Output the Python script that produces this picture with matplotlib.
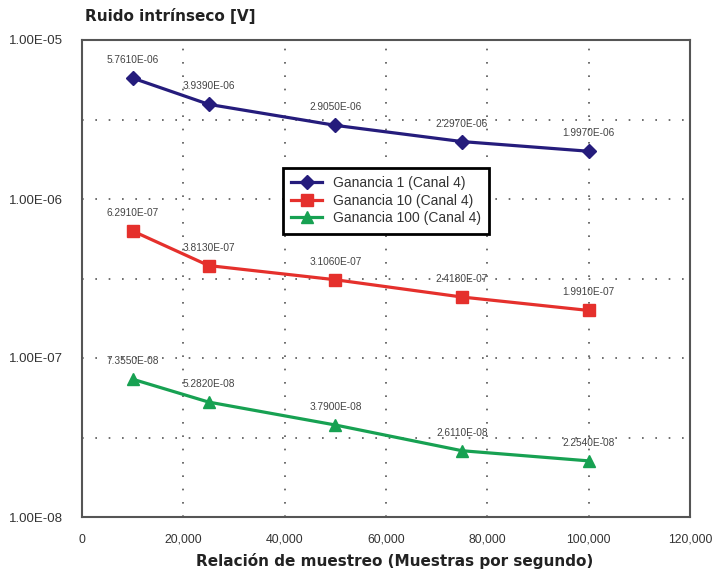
import matplotlib.pyplot as plt
import numpy as np
from matplotlib.ticker import FixedLocator, FuncFormatter

# data
muestras = [10000, 25000, 50000, 75000, 100000]
ganancia_1 = [5.761e-6, 3.939e-6, 2.905e-6, 2.297e-6, 1.997e-6]
ganancia_10 = [6.291e-7, 3.813e-7, 3.106e-7, 2.418e-7, 1.991e-7]
ganancia_100 = [7.355e-8, 5.282e-8, 3.790e-8, 2.611e-8, 2.254e-8]

series = [
    (ganancia_1, "Ganancia 1 (Canal 4)", "#251c7c", "D", 7),
    (ganancia_10, "Ganancia 10 (Canal 4)", "#e5302c", "s", 8),
    (ganancia_100, "Ganancia 100 (Canal 4)", "#17a152", "^", 8),
]

plt.rcParams['font.family'] = ['Liberation Sans', 'DejaVu Sans']

fig = plt.figure(figsize=(7.12, 5.76), dpi=100)
ax = fig.add_axes([82 / 712, 1 - 517 / 576, (690 - 82) / 712, (517 - 40) / 576])

for vals, name, col, mk, ms in series:
    ax.plot(muestras, vals, color=col, lw=2.3, marker=mk, ms=ms, label=name, zorder=3)
    for x, v in zip(muestras, vals):
        ax.annotate("{:.4E}".format(v), (x, v), xytext=(0, 13), textcoords='offset points',
                    ha='center', va='center', fontsize=7.3, color='#444444', zorder=4)

ax.set_yscale('log')
ax.set_ylim(1e-8, 1e-5)
ax.set_xlim(0, 120000)

ax.yaxis.set_major_locator(FixedLocator([1e-8, 1e-7, 1e-6, 1e-5]))
ax.yaxis.set_minor_locator(FixedLocator([10 ** -7.5, 10 ** -6.5, 10 ** -5.5]))
ax.yaxis.set_major_formatter(FuncFormatter(lambda v, p: "{:.2E}".format(v)))
ax.yaxis.set_minor_formatter(FuncFormatter(lambda v, p: ""))
ax.set_xticks(np.arange(0, 120001, 20000))
ax.xaxis.set_major_formatter(FuncFormatter(lambda v, p: "{:,.0f}".format(v)))

ax.tick_params(axis='both', which='both', length=0, colors='#333333')
ax.tick_params(axis='y', pad=14, labelsize=9.5)
ax.tick_params(axis='x', pad=12, labelsize=8.8)

ax.grid(True, which='both', color='#555555', linestyle=(0, (1, 7)), linewidth=1.2)
for s in ax.spines.values():
    s.set_color('#555555')
    s.set_linewidth(1.5)

leg = ax.legend(loc='upper left', bbox_to_anchor=(283 / 712, 1 - 168 / 576),
                bbox_transform=fig.transFigure, fontsize=10, fancybox=False,
                framealpha=1, edgecolor='black', borderpad=0.6, labelspacing=0.25,
                handlelength=2.2, borderaxespad=0)
leg.get_frame().set_linewidth(2)
for t in leg.get_texts():
    t.set_color('#333333')

fig.text(85 / 712, 1 - 16 / 576, "Ruido intrínseco [V]", fontsize=11, fontweight='bold',
         color='#222222', ha='left', va='center', family=['DejaVu Sans'])
fig.text(395 / 712, 1 - 561 / 576, "Relación de muestreo (Muestras por segundo)", fontsize=11,
         fontweight='bold', color='#222222', ha='center', va='center', family=['DejaVu Sans'])

fig.savefig("out.png", dpi=100)
